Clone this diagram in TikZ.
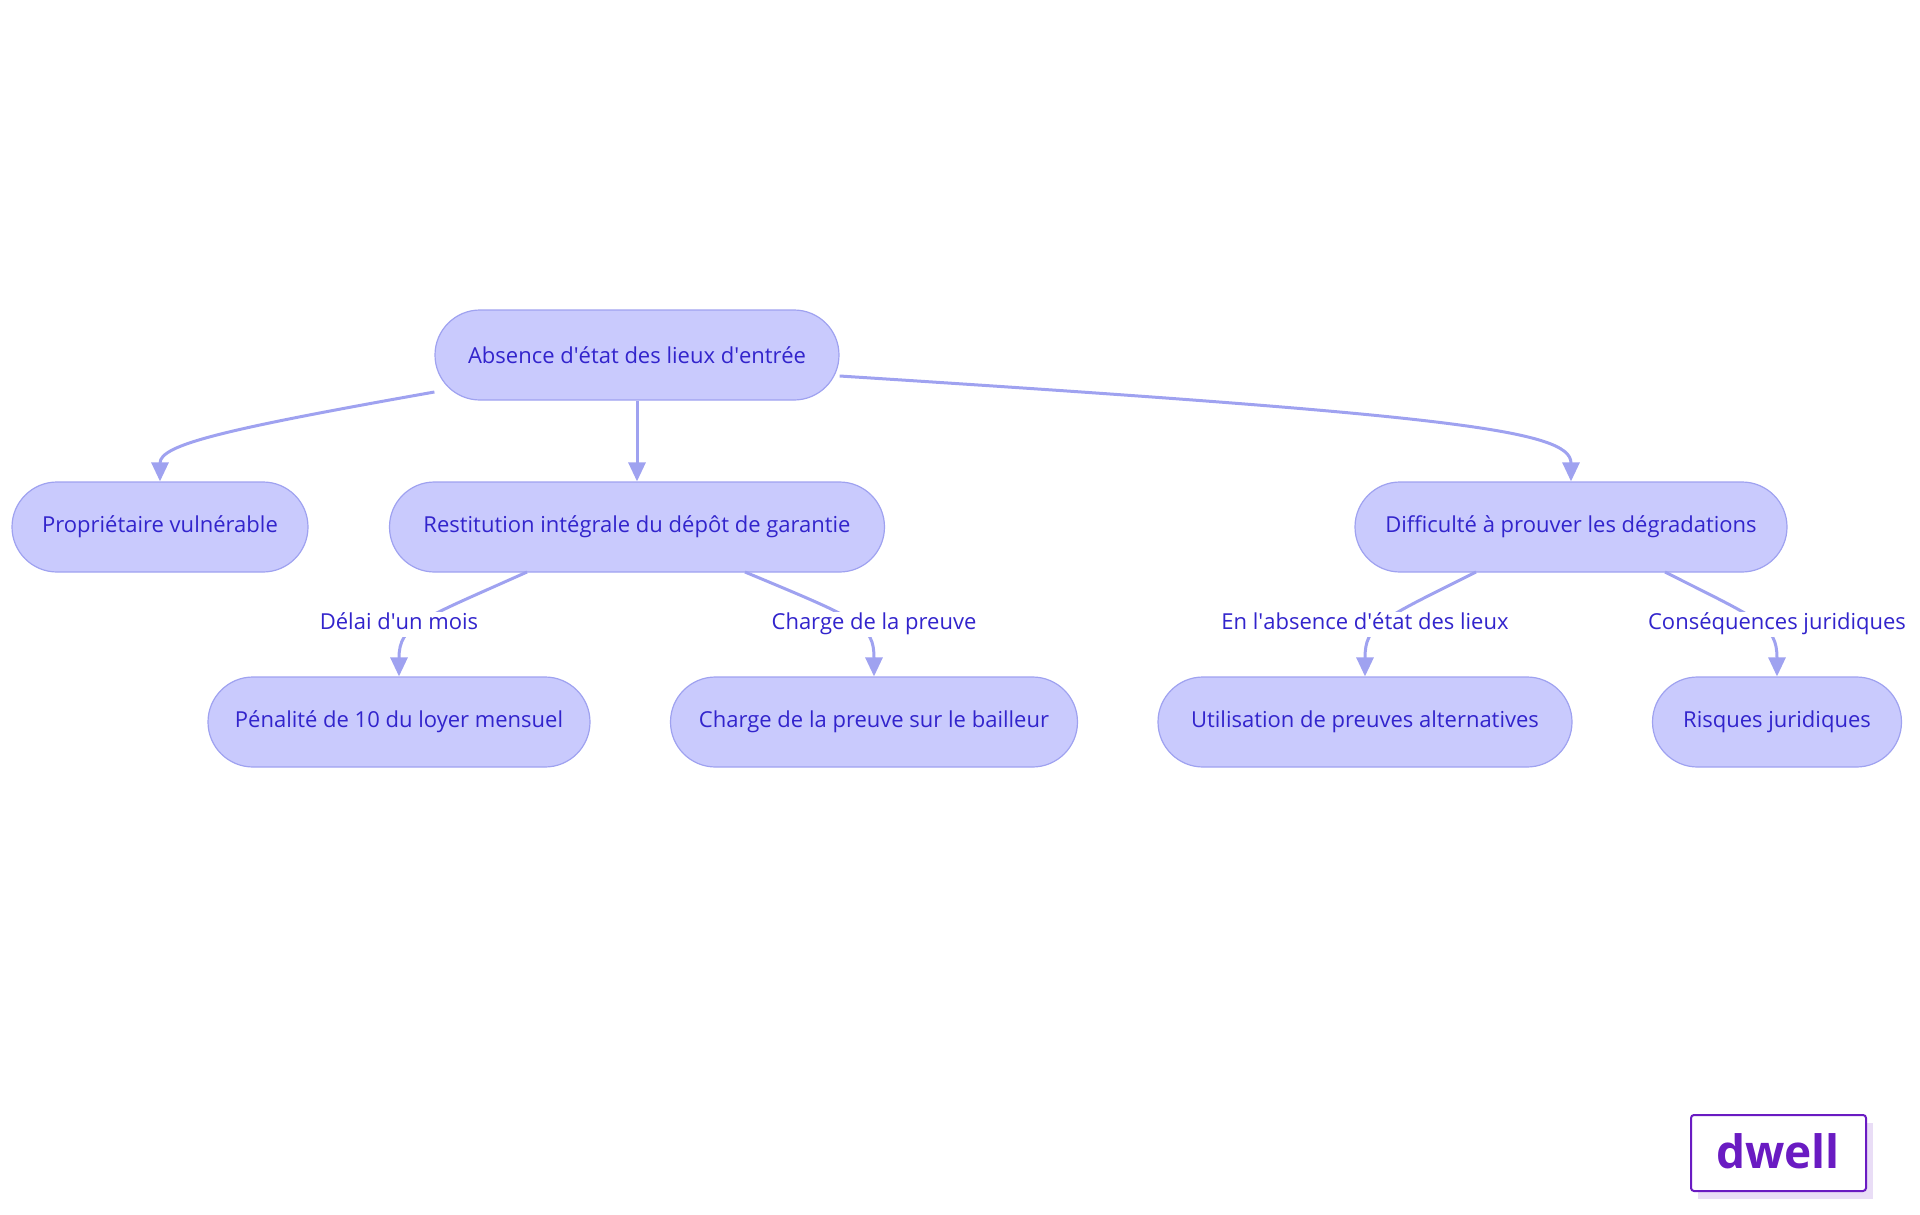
\documentclass[tikz,border=0pt]{standalone}
\usepackage{fontspec}
\setmainfont{Open Sans}
\usetikzlibrary{arrows.meta}
\definecolor{boxfill}{HTML}{C9CAFD}
\definecolor{boxline}{HTML}{9FA2F0}
\definecolor{boxtext}{HTML}{3224CC}
\definecolor{logo}{HTML}{6A1BC2}
\newcommand{\apos}{\textquotesingle}
\tikzset{
  box/.style={draw=boxline,fill=boxfill,rounded corners=45pt,minimum height=90pt,
    text=boxtext,font=\fontsize{22}{26}\selectfont,line width=1.2pt},
  link/.style={draw=boxline,line width=3pt,-{Triangle[length=19pt,width=17pt]}},
  lbl/.style={fill=white,text=boxtext,font=\fontsize{22}{26}\selectfont,inner sep=2pt,
    text height=16pt,text depth=5pt}
}
\begin{document}
\begin{tikzpicture}[x=1pt,y=-1pt]
	\useasboundingbox (0,0) rectangle (1920,1215);
	% noeuds
	\node [box,minimum width=404pt] (root) at (637,355) {Absence d\apos état des lieux d\apos entrée};
	\node [box,minimum width=296pt] (prop) at (160,527) {Propriétaire vulnérable};
	\node [box,minimum width=495pt] (rest) at (637,527) {Restitution intégrale du dépôt de garantie};
	\node [box,minimum width=432pt] (diff) at (1571,527) {Difficulté à prouver les dégradations};
	\node [box,minimum width=382pt] (pena) at (399,722) {Pénalité de 10 du loyer mensuel};
	\node [box,minimum width=407pt] (bail) at (874,722) {Charge de la preuve sur le bailleur};
	\node [box,minimum width=414pt] (alt) at (1365,722) {Utilisation de preuves alternatives};
	\node [box,minimum width=249pt] (risk) at (1777,722) {Risques juridiques};
	% liens
	\draw [link] (root.west |- 0,392) .. controls (220,430) and (160,445) .. (prop.north);
	\draw [link] (root) -- (rest);
	\draw [link] (root.east |- 0,376) .. controls (1450,415) and (1571,430) .. (diff.north);
	\draw [link] (527,572) .. controls (420,620) and (399,625) .. (pena.north);
	\draw [link] (745,572) .. controls (860,620) and (874,625) .. (bail.north);
	\draw [link] (1476,572) .. controls (1380,620) and (1365,625) .. (alt.north);
	\draw [link] (1665,572) .. controls (1760,620) and (1777,625) .. (risk.north);
	% etiquettes
	\node [lbl] (l1) at (399,624) {Délai d\apos un mois};
	\node [lbl] (l2) at (874,624) {Charge de la preuve};
	\node [lbl] (l3) at (1365,624) {En l\apos absence d\apos état des lieux};
	\node [lbl] (l4) at (1777,624) {Conséquences juridiques};
	% logo
	\fill [logo!15] (1698,1123) rectangle (1873,1199);
	\draw [logo,fill=white,line width=2pt,rounded corners=3pt] (1691,1115) rectangle (1866,1191);
	\node [text=logo,font=\fontsize{46}{50}\selectfont\bfseries] (brand) at (1778,1151) {dwell};
\end{tikzpicture}
\end{document}
